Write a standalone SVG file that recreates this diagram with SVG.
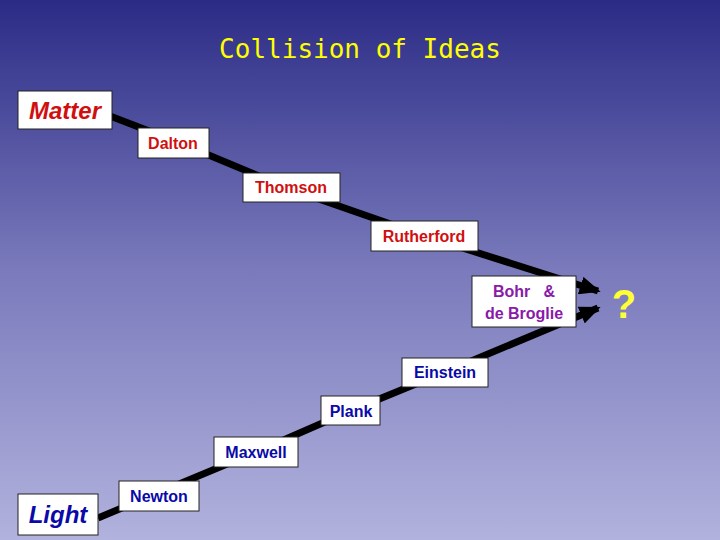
<svg xmlns="http://www.w3.org/2000/svg" width="720" height="540" viewBox="0 0 720 540">
<defs>
<linearGradient id="bg" x1="0" y1="0" x2="0" y2="1">
<stop offset="0" stop-color="#2b2b86"/>
<stop offset="0.5" stop-color="#7a7abc"/>
<stop offset="1" stop-color="#b2b2de"/>
</linearGradient>
<marker id="ah" markerWidth="3" markerHeight="2.6" refX="2.6" refY="1.3" orient="auto" markerUnits="strokeWidth">
<path d="M0,0 L3,1.3 L0,2.6 Z" fill="#000"/>
</marker>
<style>
.box{fill:#fff;stroke:#222;stroke-width:1}
.t{font-family:"Liberation Sans",Arial,sans-serif;font-weight:bold;font-size:16px;text-anchor:middle}
.r{fill:#d01010}.b{fill:#0a0aa8}.p{fill:#8a1aa8}
.big{font-size:24px;font-style:italic}
.ln{fill:none;stroke:#000;stroke-width:7;marker-end:url(#ah)}
</style>
</defs>
<rect width="720" height="540" fill="url(#bg)"/>
<text x="360" y="58" font-family="DejaVu Sans Mono,monospace" font-size="26" fill="#ffff00" text-anchor="middle">Collision of Ideas</text>
<g id="connectors">
<polyline class="ln" points="110,116 175,141 290,189 425,236 598,291"/>
<polyline class="ln" points="98,518 160,492 256,452 350,411 445,372 598,308"/>
</g>
<g id="matter"><rect class="box" x="18" y="91" width="94" height="38"/><text class="t r big" x="65" y="119">Matter</text></g>
<g id="dalton"><rect class="box" x="138" y="128" width="71" height="30"/><text class="t r" x="173" y="149">Dalton</text></g>
<g id="thomson"><rect class="box" x="243" y="173" width="97" height="29"/><text class="t r" x="291" y="193">Thomson</text></g>
<g id="rutherford"><rect class="box" x="371" y="221" width="107" height="30"/><text class="t r" x="424" y="242">Rutherford</text></g>
<g id="bohr"><rect class="box" x="472" y="276" width="104" height="51"/><text class="t p" x="524" y="297" xml:space="preserve">Bohr   &amp;</text><text class="t p" x="524" y="319">de Broglie</text></g>
<g id="question"><text x="624" y="318" font-family="Liberation Sans,Arial,sans-serif" font-weight="bold" font-size="40" fill="#ffff33" text-anchor="middle">?</text></g>
<g id="einstein"><rect class="box" x="402" y="358" width="86" height="29"/><text class="t b" x="445" y="378">Einstein</text></g>
<g id="plank"><rect class="box" x="321" y="396" width="59" height="29"/><text class="t b" x="351" y="417">Plank</text></g>
<g id="maxwell"><rect class="box" x="214" y="437" width="84" height="30"/><text class="t b" x="256" y="458">Maxwell</text></g>
<g id="light"><rect class="box" x="18" y="494" width="80" height="41"/><text class="t b big" x="58" y="523">Light</text></g>
<g id="newton"><rect class="box" x="119" y="481" width="80" height="30"/><text class="t b" x="159" y="502">Newton</text></g>
</svg>
